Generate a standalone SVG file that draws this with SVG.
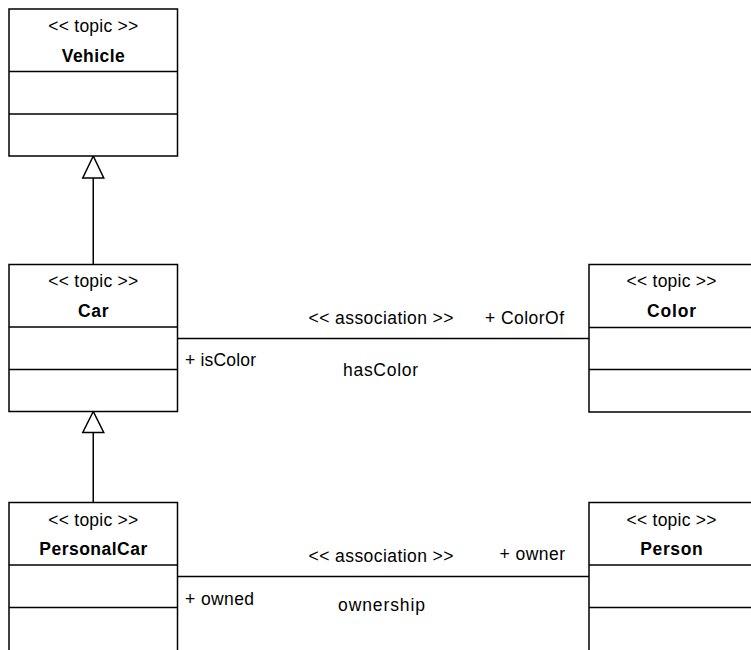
<svg xmlns="http://www.w3.org/2000/svg" width="751" height="650" viewBox="0 0 751 650">
<style>
.box{fill:#fff;stroke:#000;stroke-width:1.5}
.div{stroke:#000;stroke-width:1.5}
.t{font-family:"Liberation Sans",Arial,sans-serif;font-size:17.5px;fill:#000}
.c{text-anchor:middle}
.b{font-weight:bold}
.ln{stroke:#000;stroke-width:1.5;fill:none}
.tri{fill:#fff;stroke:#000;stroke-width:1.5}
</style>
<rect width="751" height="650" fill="#fff"/>
<g id="connectors">
<line class="ln" x1="93.25" y1="178" x2="93.25" y2="264.5"/>
<polygon class="tri" points="93.25,156 82.75,178 103.75,178"/>
<line class="ln" x1="93.25" y1="432.5" x2="93.25" y2="502.5"/>
<polygon class="tri" points="93.25,411.5 82.75,432.5 103.75,432.5"/>
<line class="ln" x1="177.5" y1="338.5" x2="589" y2="338.5"/>
<text class="t c" x="381" y="323.5" textLength="145" lengthAdjust="spacing">&lt;&lt; association &gt;&gt;</text>
<text class="t" x="485" y="323.5" textLength="79" lengthAdjust="spacing">+ ColorOf</text>
<text class="t" x="185" y="366" textLength="71" lengthAdjust="spacing">+ isColor</text>
<text class="t" x="343" y="376" textLength="75" lengthAdjust="spacing">hasColor</text>
<line class="ln" x1="177.5" y1="576.5" x2="589" y2="576.5"/>
<text class="t c" x="381" y="562" textLength="145" lengthAdjust="spacing">&lt;&lt; association &gt;&gt;</text>
<text class="t" x="499.5" y="560" textLength="65.5" lengthAdjust="spacing">+ owner</text>
<text class="t" x="185" y="605" textLength="69" lengthAdjust="spacing">+ owned</text>
<text class="t" x="338" y="611" textLength="87" lengthAdjust="spacing">ownership</text>
</g>
<g id="Vehicle">
<rect class="box" x="9" y="9" width="168.5" height="147"/>
<line class="div" x1="9" y1="71.5" x2="177.5" y2="71.5"/>
<line class="div" x1="9" y1="114" x2="177.5" y2="114"/>
<text class="t c" x="93.25" y="31.5" textLength="90" lengthAdjust="spacing">&lt;&lt; topic &gt;&gt;</text>
<text class="t c b" x="93.25" y="61.5" textLength="63" lengthAdjust="spacing">Vehicle</text>
</g>
<g id="Car">
<rect class="box" x="9" y="264.5" width="168.5" height="147"/>
<line class="div" x1="9" y1="327" x2="177.5" y2="327"/>
<line class="div" x1="9" y1="369.5" x2="177.5" y2="369.5"/>
<text class="t c" x="93.25" y="287" textLength="90" lengthAdjust="spacing">&lt;&lt; topic &gt;&gt;</text>
<text class="t c b" x="93.25" y="316.7" textLength="30.5" lengthAdjust="spacing">Car</text>
</g>
<g id="PersonalCar">
<rect class="box" x="9" y="502.5" width="168.5" height="160"/>
<line class="div" x1="9" y1="565" x2="177.5" y2="565"/>
<line class="div" x1="9" y1="607.5" x2="177.5" y2="607.5"/>
<text class="t c" x="93.25" y="525.5" textLength="90" lengthAdjust="spacing">&lt;&lt; topic &gt;&gt;</text>
<text class="t c b" x="93.25" y="555" textLength="108" lengthAdjust="spacing">PersonalCar</text>
</g>
<g id="Color">
<rect class="box" x="589" y="264.5" width="165" height="147.5"/>
<line class="div" x1="589" y1="327.5" x2="754" y2="327.5"/>
<line class="div" x1="589" y1="369.5" x2="754" y2="369.5"/>
<text class="t c" x="671.5" y="286.5" textLength="90" lengthAdjust="spacing">&lt;&lt; topic &gt;&gt;</text>
<text class="t c b" x="671.5" y="316.7" textLength="49" lengthAdjust="spacing">Color</text>
</g>
<g id="Person">
<rect class="box" x="589" y="502.5" width="165" height="160"/>
<line class="div" x1="589" y1="565" x2="754" y2="565"/>
<line class="div" x1="589" y1="607.5" x2="754" y2="607.5"/>
<text class="t c" x="671.5" y="525.5" textLength="90" lengthAdjust="spacing">&lt;&lt; topic &gt;&gt;</text>
<text class="t c b" x="671.5" y="555" textLength="62.5" lengthAdjust="spacing">Person</text>
</g>
</svg>
